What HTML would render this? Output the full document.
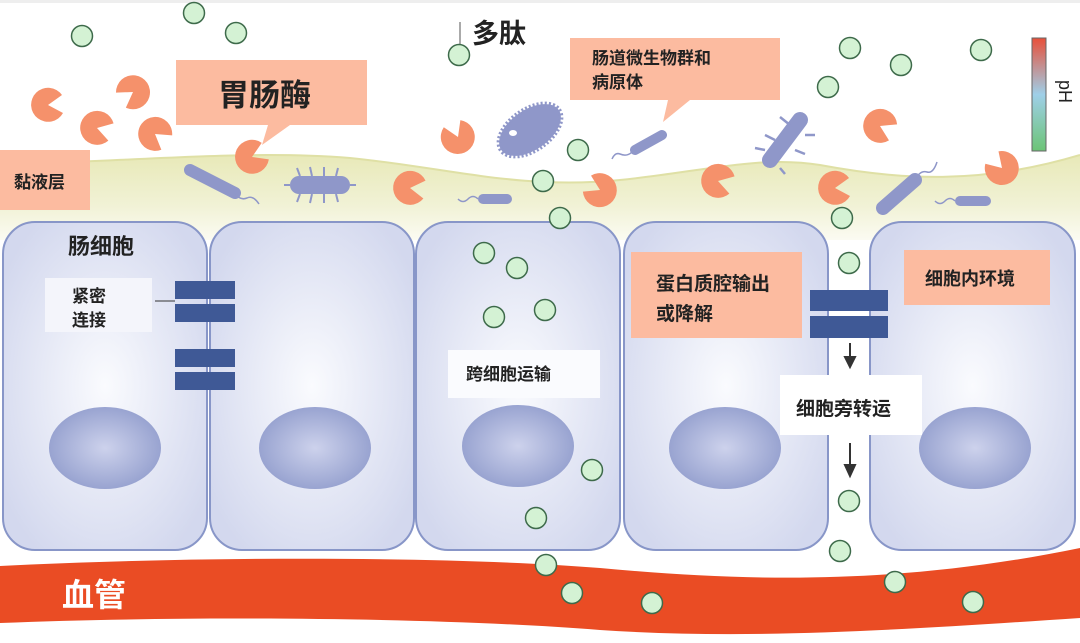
<!DOCTYPE html>
<html><head><meta charset="utf-8"><style>
html,body{margin:0;padding:0;background:#fff}
svg text{font-family:"Liberation Sans","Noto Sans CJK SC",sans-serif;font-weight:bold;fill:#222}
</style></head><body>
<svg width="1080" height="638" viewBox="0 0 1080 638" xmlns="http://www.w3.org/2000/svg">
<defs>
<linearGradient id="muc" x1="0" y1="0" x2="0" y2="1">
<stop offset="0" stop-color="#e8e9b8"/><stop offset="0.6" stop-color="#f1f2d6"/><stop offset="1" stop-color="#fbfbf2"/></linearGradient>
<radialGradient id="cell" cx="0.5" cy="0.5" r="0.6">
<stop offset="0" stop-color="#fafbfe"/><stop offset="1" stop-color="#d3d8ee"/></radialGradient>
<radialGradient id="nuc" cx="0.5" cy="0.5" r="0.6">
<stop offset="0" stop-color="#cdd2ec"/><stop offset="1" stop-color="#8e9acb"/></radialGradient>
<linearGradient id="ph" x1="0" y1="0" x2="0" y2="1">
<stop offset="0" stop-color="#e8503a"/><stop offset="0.5" stop-color="#9fcfe8"/><stop offset="1" stop-color="#6cc476"/></linearGradient>
<g id="gd"><circle r="10.5" fill="#d4f2d4" stroke="#3d6a4a" stroke-width="1.5"/></g>
<g id="pm"><path d="M0,0 L14,-10 A17,17 0 1,0 15,8 Z" fill="#f5916b"/></g>
</defs>
<rect x="0" y="0" width="1080" height="3" fill="#eee"/>
<!-- mucus -->
<path d="M0,165 C150,160 250,150 350,158 C450,168 520,190 620,180 C700,172 760,155 820,165 C900,180 980,185 1080,155 L1080,240 L0,240 Z" fill="url(#muc)"/>
<path d="M0,165 C150,160 250,150 350,158 C450,168 520,190 620,180 C700,172 760,155 820,165 C900,180 980,185 1080,155" fill="none" stroke="#dfe0a5" stroke-width="2"/>
<!-- vessel -->
<path d="M0,566 C200,556 450,556 600,568 C750,582 900,585 1080,548 L1080,618 C900,630 750,640 600,630 C450,618 200,615 0,623 Z" fill="#ea4c24"/>
<text x="62" y="606" font-size="32" style="fill:#fff">血管</text>
<!-- cells -->
<g stroke="#8896c8" stroke-width="2" fill="url(#cell)">
<rect x="3" y="222" width="204" height="328" rx="32"/>
<rect x="210" y="222" width="204" height="328" rx="32"/>
<rect x="416" y="222" width="204" height="328" rx="32"/>
<rect x="624" y="222" width="204" height="328" rx="32"/>
<rect x="870" y="222" width="205" height="328" rx="32"/>
</g>
<g fill="url(#nuc)">
<ellipse cx="105" cy="448" rx="56" ry="41"/>
<ellipse cx="315" cy="448" rx="56" ry="41"/>
<ellipse cx="518" cy="446" rx="56" ry="41"/>
<ellipse cx="725" cy="448" rx="56" ry="41"/>
<ellipse cx="975" cy="448" rx="56" ry="41"/>
</g>
<!-- tight junctions -->
<g fill="#3f5996">
<rect x="175" y="281" width="60" height="18"/><rect x="175" y="304" width="60" height="18"/>
<rect x="175" y="349" width="60" height="18"/><rect x="175" y="372" width="60" height="18"/>
<rect x="810" y="290" width="78" height="21"/><rect x="810" y="316" width="78" height="22"/>
</g>
<line x1="155" y1="301" x2="175" y2="301" stroke="#333" stroke-width="1"/>
<!-- arrows -->
<g stroke="#333" stroke-width="2" fill="#333">
<line x1="850" y1="343" x2="850" y2="360"/><path d="M845,357 L855,357 L850,367 Z"/>
<line x1="850" y1="443" x2="850" y2="468"/><path d="M845,465 L855,465 L850,476 Z"/>
</g>
<!-- labels in cells -->
<text x="68" y="254" font-size="22">肠细胞</text>
<rect x="45" y="278" width="107" height="54" fill="#f4f5fb"/>
<text x="72" y="302" font-size="17">紧密</text>
<text x="72" y="326" font-size="17">连接</text>
<rect x="448" y="350" width="152" height="48" fill="#fafbfe"/>
<text x="466" y="380" font-size="17">跨细胞运输</text>
<rect x="631" y="252" width="171" height="86" fill="#fcbba0"/>
<text x="656" y="290" font-size="19">蛋白质腔输出</text>
<text x="656" y="320" font-size="19">或降解</text>
<rect x="904" y="250" width="146" height="55" fill="#fcbba0"/>
<text x="925" y="285" font-size="18">细胞内环境</text>
<rect x="780" y="375" width="142" height="60" fill="#fff"/>
<text x="796" y="415" font-size="19">细胞旁转运</text>
<!-- top labels -->
<path d="M176,60 L367,60 L367,125 L290,125 L262,145 L268,125 L176,125 Z" fill="#fcbba0"/>
<text x="218" y="106" font-size="31">胃肠酶</text>
<rect x="0" y="150" width="90" height="60" fill="#fcbba0"/>
<text x="14" y="188" font-size="17">黏液层</text>
<path d="M570,38 L780,38 L780,100 L690,100 L663,122 L668,100 L570,100 Z" fill="#fcbba0"/>
<text x="592" y="64" font-size="17">肠道微生物群和</text>
<text x="592" y="88" font-size="17">病原体</text>
<text x="472" y="43" font-size="27">多肽</text>
<line x1="460" y1="22" x2="460" y2="46" stroke="#555" stroke-width="1"/>
<rect x="1032" y="38" width="14" height="113" fill="url(#ph)" stroke="#666" stroke-width="1"/>
<text x="0" y="0" font-size="18" font-weight="normal" transform="translate(1059,80) rotate(90)" style="font-weight:normal">pH</text>
<!-- bacteria -->
<g fill="#8f97c9" stroke="#8f97c9">
<line x1="190" y1="170" x2="235" y2="193" stroke-width="12" stroke-linecap="round"/>
<path d="M235,193 q5,8 12,5 q6,-3 12,6" fill="none" stroke-width="1.5"/>
<rect x="290" y="176" width="60" height="18" rx="9" stroke="none"/>
<path d="M300,176 l-3,-8 M312,176 l-2,-9 M324,176 l0,-9 M336,176 l2,-8 M300,194 l-3,8 M312,194 l-2,9 M324,194 l0,9 M336,194 l2,8 M290,185 l-6,0 M350,185 l6,0" stroke-width="2" fill="none"/>
<rect x="478" y="194" width="34" height="10" rx="5" stroke="none"/>
<path d="M478,199 q-5,-5 -10,0 q-5,5 -10,0" fill="none" stroke-width="1.5"/>
<ellipse cx="530" cy="130" rx="35" ry="20" transform="rotate(-35 530 130)" stroke-dasharray="2 2" stroke-width="5"/>
<line x1="635" y1="150" x2="662" y2="135" stroke-width="10" stroke-linecap="round"/>
<path d="M632,152 q-5,5 -12,2 q-5,-2 -8,5" fill="none" stroke-width="1.5"/>
<line x1="770" y1="160" x2="800" y2="120" stroke-width="16" stroke-linecap="round"/>
<path d="M765,150 l-10,-2 M775,140 l-10,-5 M790,125 l-10,-8 M780,168 l5,6 M795,150 l10,4 M805,135 l10,0" stroke-width="2.5" fill="none"/>
<line x1="883" y1="208" x2="915" y2="180" stroke-width="14" stroke-linecap="round"/>
<path d="M915,180 q5,-10 12,-8 q6,2 10,-10" fill="none" stroke-width="1.5"/>
<rect x="955" y="196" width="36" height="10" rx="5" stroke="none"/>
<path d="M955,201 q-5,-5 -10,0 q-5,5 -10,0" fill="none" stroke-width="1.5"/>
</g>
<ellipse cx="513" cy="133" rx="4" ry="3" fill="#fff"/>
<!-- pacmen -->
<use href="#pm" transform="translate(48,105) rotate(0)"/>
<use href="#pm" transform="translate(133,92) rotate(150)"/>
<use href="#pm" transform="translate(97,128) rotate(20)"/>
<use href="#pm" transform="translate(155,134) rotate(40)"/>
<use href="#pm" transform="translate(252,157) rotate(-20)"/>
<use href="#pm" transform="translate(458,137) rotate(250)"/>
<use href="#pm" transform="translate(410,188) rotate(10)"/>
<use href="#pm" transform="translate(600,190) rotate(-150)"/>
<use href="#pm" transform="translate(718,181) rotate(20)"/>
<use href="#pm" transform="translate(835,188) rotate(0)"/>
<use href="#pm" transform="translate(880,126) rotate(30)"/>
<use href="#pm" transform="translate(1002,168) rotate(-130)"/>
<!-- green dots -->
<use href="#gd" x="82" y="36"/><use href="#gd" x="194" y="13"/><use href="#gd" x="236" y="33"/>
<use href="#gd" x="459" y="55"/><use href="#gd" x="578" y="150"/><use href="#gd" x="543" y="181"/>
<use href="#gd" x="560" y="218"/><use href="#gd" x="484" y="253"/><use href="#gd" x="517" y="268"/>
<use href="#gd" x="545" y="310"/><use href="#gd" x="494" y="317"/><use href="#gd" x="850" y="48"/>
<use href="#gd" x="901" y="65"/><use href="#gd" x="981" y="50"/><use href="#gd" x="828" y="87"/>
<use href="#gd" x="842" y="218"/><use href="#gd" x="849" y="263"/><use href="#gd" x="592" y="470"/>
<use href="#gd" x="536" y="518"/><use href="#gd" x="546" y="565"/><use href="#gd" x="572" y="593"/>
<use href="#gd" x="652" y="603"/><use href="#gd" x="849" y="501"/><use href="#gd" x="840" y="551"/>
<use href="#gd" x="895" y="582"/><use href="#gd" x="973" y="602"/>
</svg>
</body></html>
